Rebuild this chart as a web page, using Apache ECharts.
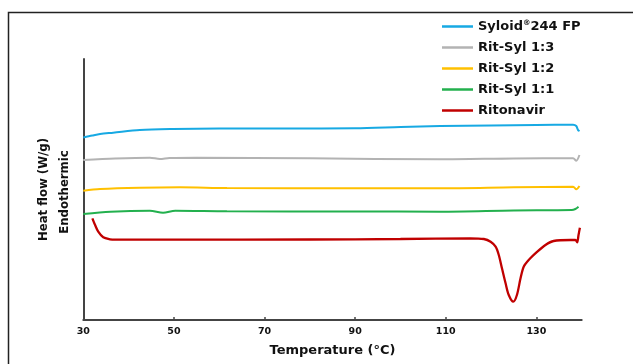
<!DOCTYPE html>
<html>
<head>
<meta charset="utf-8">
<script src="https://cdn.jsdelivr.net/npm/echarts@6/dist/echarts.min.js"></script>
<style>html,body{margin:0;padding:0;background:#fff}#c{width:633px;height:364px}</style>
</head>
<body>
<div id="c"></div>
<script>
// Temperature (°C) / heat flow (arbitrary offset units, W/g)
const xTicks = [30, 50, 70, 90, 110, 130];
const seriesNames = ['Syloid®244 FP', 'Rit-Syl 1:3', 'Rit-Syl 1:2', 'Rit-Syl 1:1', 'Ritonavir'];

const syloid = [[30,18.25],[32,18.45],[33.7,18.6],[36.6,18.73],[42.5,19.0],[49.8,19.1],[60,19.15],[75,19.16],[90,19.17],[100,19.3],[108.8,19.4],[120,19.45],[130,19.5],[138.1,19.53],[138.8,19.4],[139.3,18.93],[139.5,19.0]];
const rs13 = [[30,16.0],[37,16.15],[44.7,16.23],[46.9,16.1],[49,16.2],[55,16.23],[80,16.17],[108.8,16.07],[125,16.15],[138.1,16.17],[138.8,15.93],[139.5,16.5]];
const rs12 = [[30,12.93],[33.7,13.1],[42.5,13.23],[51.3,13.27],[61.7,13.2],[90,13.17],[108.8,13.17],[125,13.27],[138.1,13.33],[138.8,13.07],[139.5,13.4]];
const rs11 = [[30,10.6],[36,10.83],[44.7,10.93],[47.6,10.73],[50.3,10.93],[61.7,10.87],[90,10.85],[108.8,10.83],[125,10.95],[137.8,11.0],[138.6,11.1],[139.3,11.33]];
const ritonavir = [[32,10.17],[32.6,9.5],[33.3,8.83],[34.4,8.27],[35.9,8.07],[37,8.03],[50,8.03],[80,8.05],[100,8.1],[115.4,8.17],[118.4,8.1],[119.9,7.83],[121.0,7.33],[121.7,6.5],[122.4,5.17],[123.2,3.67],[123.9,2.5],[124.9,1.83],[125.7,2.5],[126.5,4.17],[127.2,5.33],[128.3,6.0],[130.2,6.83],[132.0,7.5],[133.8,7.9],[137.5,8.0],[138.6,8.0],[139.0,7.77],[139.3,8.5],[139.6,9.23]];

const colors = ['#17a9e3', '#b3b3b3', '#ffc000', '#23b04e', '#c00000'];
const dataSets = [syloid, rs13, rs12, rs11, ritonavir];

const chart = echarts.init(document.getElementById('c'));
const boldFont = 'DejaVu Sans';
chart.setOption({
  animation: false,
  grid: {left: 83.3, right: 51.3, top: 59, bottom: 44},
  graphic: [
    {type: 'rect', shape: {x: 8.5, y: 12.5, width: 700, height: 500}, style: {fill: 'none', stroke: '#222', lineWidth: 1.5}, silent: true},
    {type: 'text', x: 65, y: 192, rotation: Math.PI / 2, style: {text: 'Endothermic', font: 'bold 13px "Liberation Sans Narrow", "DejaVu Sans Condensed", sans-serif', fill: '#111', align: 'center', verticalAlign: 'middle'}}
  ],
  legend: {
    orient: 'vertical', left: 442, top: 19.5, padding: 0,
    itemWidth: 31, itemHeight: 2.5, itemGap: 7, icon: 'rect',
    data: seriesNames,
    formatter: function (n) {
      if (n.indexOf('®') >= 0) { const p = n.split('®'); return '{a|' + p[0] + '}{s|®}{a|' + p[1] + '}'; }
      return '{a|' + n + '}';
    },
    textStyle: {
      color: '#111', fontFamily: boldFont, fontWeight: 'bold', fontSize: 13, lineHeight: 14,
      rich: {
        a: {fontFamily: boldFont, fontWeight: 'bold', fontSize: 13, lineHeight: 14, color: '#111'},
        s: {fontFamily: boldFont, fontWeight: 'bold', fontSize: 7.5, lineHeight: 14, color: '#111', verticalAlign: 'top', padding: [0, 0, 6, 0]}
      }
    }
  },
  xAxis: {
    type: 'value', min: 30, max: 140, interval: 20,
    name: 'Temperature (°C)', nameLocation: 'middle', nameGap: 24.5,
    nameTextStyle: {fontFamily: boldFont, fontWeight: 'bold', fontSize: 13, color: '#111'},
    axisLine: {show: true, lineStyle: {color: '#444', width: 2}},
    axisTick: {show: true, inside: true, length: 3, lineStyle: {color: '#444', width: 1.5}},
    axisLabel: {showMaxLabel: false, margin: 7, fontFamily: boldFont, fontWeight: 'bold', fontSize: 9.5, color: '#111',
      formatter: function (v) { return xTicks.indexOf(v) >= 0 ? String(v) : ''; }},
    splitLine: {show: false}
  },
  yAxis: {
    type: 'value', min: 0, max: 26.1,
    name: 'Heat flow (W/g)', nameLocation: 'middle', nameGap: 33, nameRotate: 90,
    nameTextStyle: {fontFamily: '"Liberation Sans Narrow", "DejaVu Sans Condensed", sans-serif', fontWeight: 'bold', fontSize: 13, color: '#111'},
    axisLine: {show: true, lineStyle: {color: '#444', width: 2}},
    axisTick: {show: false}, axisLabel: {show: false}, splitLine: {show: false}
  },
  series: seriesNames.map(function (n, i) {
    return {
      name: n, type: 'line', data: dataSets[i], showSymbol: false, smooth: 0.3,
      color: colors[i],
      lineStyle: {color: colors[i], width: i === 4 ? 2.3 : 2}
    };
  })
});
</script>
</body>
</html>
